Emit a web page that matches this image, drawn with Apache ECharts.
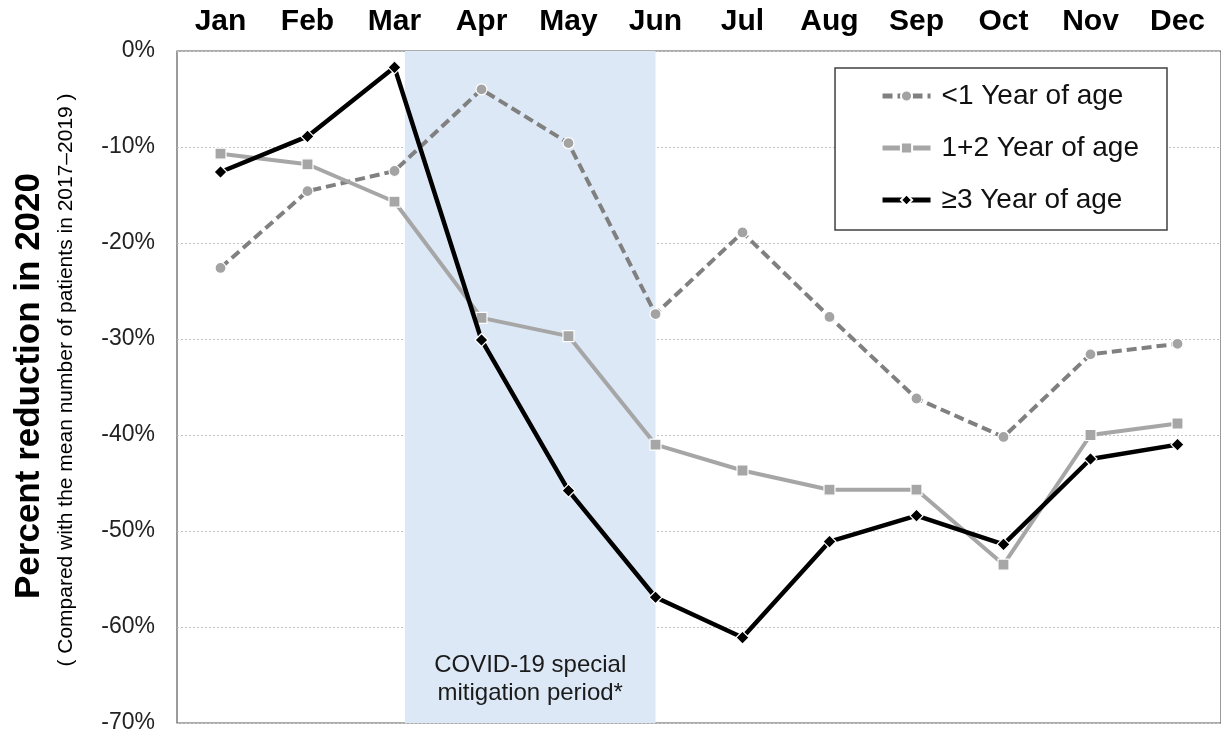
<!DOCTYPE html>
<html>
<head>
<meta charset="utf-8">
<script src="https://cdn.jsdelivr.net/npm/echarts@6/dist/echarts.min.js"></script>
<style>
html, body { margin: 0; padding: 0; background: #fff; }
#chart { width: 1221px; height: 736px; }
</style>
</head>
<body>
<div id="chart"></div>
<script>
// data
const months = ['Jan', 'Feb', 'Mar', 'Apr', 'May', 'Jun', 'Jul', 'Aug', 'Sep', 'Oct', 'Nov', 'Dec']
const seriesNames = ['<1 Year of age', '1+2 Year of age', '≥3 Year of age']
const under1 = [-22.6, -14.6, -12.5, -4.0, -9.6, -27.4, -18.9, -27.7, -36.2, -40.2, -31.6, -30.5]
const age1to2 = [-10.7, -11.8, -15.7, -27.8, -29.7, -41.0, -43.7, -45.7, -45.7, -53.5, -40.0, -38.8]
const age3plus = [-12.6, -8.9, -1.7, -30.1, -45.8, -56.9, -61.1, -51.1, -48.4, -51.4, -42.5, -41.0]
// mitigation period, in month index units (Mar ~ +0.12 .. Jun)
const mitigationPeriod = [2.12, 5]
const mitigationLabel = 'COVID-19 special\nmitigation period*'
const yTicks = { min: -70, max: 0, interval: 10 }

const font = 'Liberation Sans, Arial, sans-serif'
const mychart = echarts.init(document.getElementById('chart'))

const option = {
  animation: false,
  textStyle: { fontFamily: font },
  grid: {
    left: 177, top: 51, right: 0, bottom: 13,
    show: true, borderColor: '#5a5a5a', borderWidth: 1.2
  },
  legend: {
    orient: 'vertical',
    right: 54,
    top: 68,
    padding: [14, 28, 16, 45],
    backgroundColor: '#fff',
    borderColor: '#404040',
    borderWidth: 1.5,
    itemWidth: 48,
    itemHeight: 14,
    itemGap: 24,
    lineStyle: { width: 5 },
    textStyle: { fontSize: 28, color: '#111', padding: [0, 0, 0, 6], lineHeight: 28 },
    data: seriesNames
  },
  graphic: [
    {
      type: 'text', x: 29, y: 386, rotation: Math.PI / 2,
      style: {
        text: 'Percent reduction in 2020', font: 'bold 35px ' + font,
        fill: '#000', align: 'center', verticalAlign: 'middle'
      }
    },
    {
      type: 'text', x: 66, y: 380, rotation: Math.PI / 2,
      style: {
        text: '( Compared with the mean number of patients in 2017\u20132019 )',
        font: '21px ' + font, fill: '#000', align: 'center', verticalAlign: 'middle'
      }
    }
  ],
  xAxis: [
    {
      type: 'category',
      position: 'top',
      data: months,
      boundaryGap: true,
      axisLine: { show: false },
      axisTick: { show: false },
      axisLabel: { fontSize: 30, fontWeight: 'bold', color: '#000', margin: 14 }
    },
    {
      // hidden helper axis in month-index units, for the shaded period
      type: 'value', min: -0.5, max: 11.5, show: false
    }
  ],
  yAxis: {
    type: 'value',
    min: yTicks.min, max: yTicks.max, interval: yTicks.interval,
    axisLine: { show: false },
    axisTick: { show: false },
    axisLabel: { fontSize: 23, color: '#222', margin: 22, formatter: '{value}%' },
    splitLine: { lineStyle: { color: '#c4c4c4', type: [2, 2], width: 1 } }
  },
  series: [
    {
      name: 'mitigation',
      type: 'line',
      xAxisIndex: 1,
      data: [],
      z: -1,
      silent: true,
      markArea: {
        silent: true,
        itemStyle: { color: '#dce8f5' },
        label: {
          show: true, position: 'insideBottom', distance: 16,
          fontSize: 24, color: '#1a1a1a', lineHeight: 28, align: 'center'
        },
        data: [[{ xAxis: mitigationPeriod[0], name: mitigationLabel }, { xAxis: mitigationPeriod[1] }]]
      }
    },
    {
      name: seriesNames[0],
      type: 'line',
      data: under1,
      symbol: 'circle',
      symbolSize: 11,
      lineStyle: { color: '#808080', width: 4, type: [10, 5] },
      itemStyle: { color: '#a3a3a3', borderColor: '#fff', borderWidth: 1.2 },
      z: 3
    },
    {
      name: seriesNames[1],
      type: 'line',
      data: age1to2,
      symbol: 'rect',
      symbolSize: 11,
      lineStyle: { color: '#a6a6a6', width: 4 },
      itemStyle: { color: '#a6a6a6', borderColor: '#fff', borderWidth: 1.2 },
      z: 4
    },
    {
      name: seriesNames[2],
      type: 'line',
      data: age3plus,
      symbol: 'diamond',
      symbolSize: 13,
      lineStyle: { color: '#000', width: 4.5 },
      itemStyle: { color: '#000', borderColor: '#fff', borderWidth: 1.2 },
      z: 5
    }
  ]
}
mychart.setOption(option, true)
</script>
</body>
</html>
